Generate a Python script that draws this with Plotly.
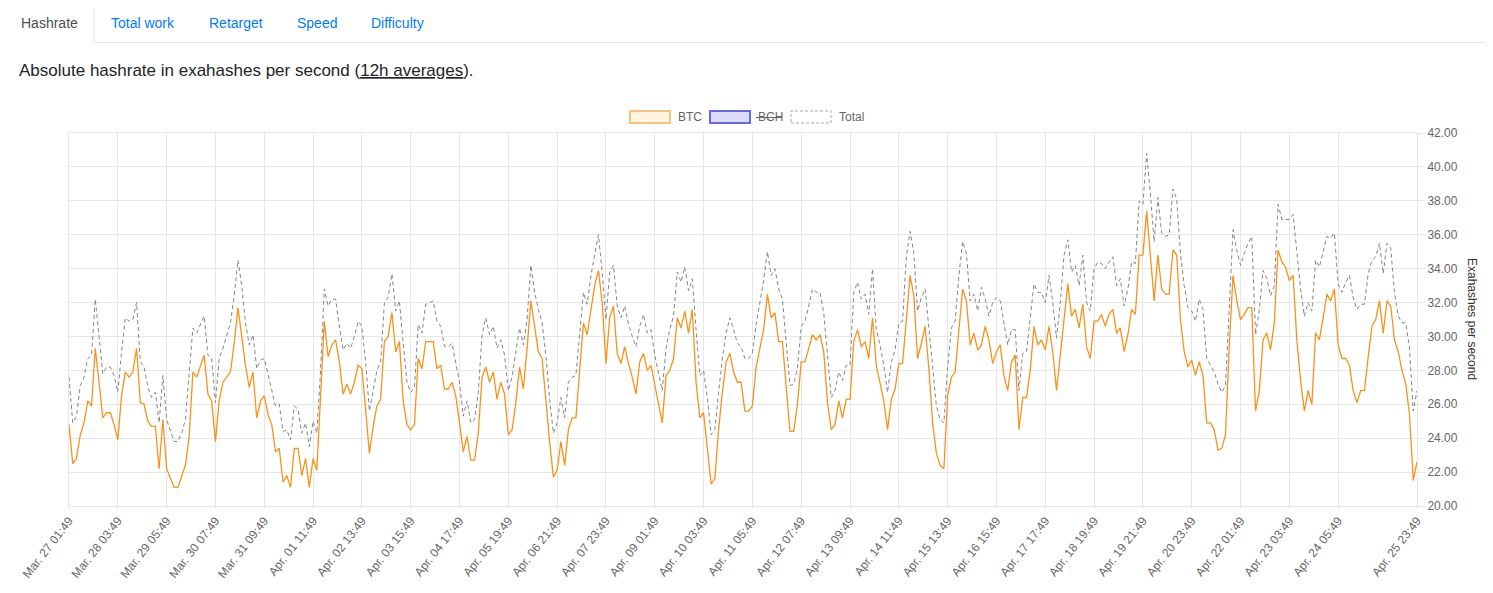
import plotly.graph_objects as go

# ---------------- data (EH/s, one point every 2 hours) ----------------
BTC = [
    24.8, 22.5, 22.8, 24.2, 24.9, 26.2, 25.9, 29.3, 27.3, 25.2, 25.5, 25.5, 24.8, 23.9, 26.5, 27.9, 27.6, 27.9, 29.3, 26.1,
    26.0, 25.0, 24.7, 24.7, 22.2, 25.1, 22.2, 21.6, 21.1, 21.1, 21.7, 22.4, 24.1,
    27.9, 27.6, 28.3, 28.9, 26.6, 26.2, 23.8, 26.2, 27.3, 27.6, 27.9, 29.6, 31.7, 30.0, 28.3, 27.0, 27.9, 25.2, 26.2, 26.5,
    25.4, 24.8, 23.2, 23.4, 21.4, 21.8, 21.1, 23.4, 23.4, 21.8, 22.8, 21.1, 22.8,
    22.1, 26.5, 30.9, 28.8, 29.5, 29.8, 28.5, 26.6, 27.2, 26.6, 27.3, 28.3, 28.1, 25.7, 23.1, 24.7, 25.9, 26.3, 29.7, 30.0,
    31.4, 29.1, 29.7, 26.2, 24.8, 24.5, 24.8, 28.7, 28.1, 29.7, 29.7, 29.7, 28.1, 28.3,
    26.9, 26.9, 27.3, 26.5, 24.9, 23.2, 24.1, 22.7, 22.7, 24.3, 27.6, 28.2, 27.3, 27.9, 26.3, 27.3, 26.6, 24.2, 24.5, 26.1,
    28.2, 26.9, 29.3, 32.1, 30.6, 29.1, 28.7, 26.1, 23.8, 21.7, 22.1, 23.8, 22.4,
    24.5, 25.2, 25.2, 28.3, 30.8, 30.1, 31.6, 33.0, 33.9, 32.0, 28.4, 31.1, 31.8, 29.0, 28.4, 29.4, 28.4, 27.6, 26.6, 28.5,
    29.0, 28.0, 28.3, 27.2, 25.9, 24.9, 27.7, 28.0, 28.7, 31.1, 30.5, 31.5, 30.2,
    31.6, 27.3, 25.2, 25.5, 23.3, 21.3, 21.6, 24.5, 26.7, 28.5, 29.0, 27.9, 27.3, 27.3, 25.6, 25.6, 25.9, 28.2, 29.3, 30.4,
    32.5, 31.1, 31.4, 29.7, 29.7, 26.8, 24.4, 24.4, 26.0, 28.5, 28.5, 29.3, 30.1,
    29.8, 30.1, 29.1, 26.1, 24.5, 24.8, 26.2, 25.2, 26.3, 26.3, 29.7, 30.4, 29.4, 29.7, 28.7, 31.1, 28.3, 27.3, 26.2, 24.5,
    26.3, 26.9, 28.4, 28.4, 31.2, 33.6, 32.4, 28.7, 29.6, 30.6, 28.1, 24.9, 23.1, 22.4,
    22.2, 26.5, 27.6, 27.9, 30.4, 32.8, 32.1, 29.5, 30.2, 29.2, 29.5, 30.6, 29.8, 28.4, 29.1, 29.5, 27.7, 26.8, 28.5, 28.9,
    24.5, 26.4, 26.4, 28.0, 30.6, 29.5, 29.8, 29.2, 30.6, 29.1, 26.8, 28.9, 31.2,
    33.1, 31.2, 31.6, 30.5, 31.9, 29.4, 28.7, 30.9, 30.9, 31.3, 30.6, 31.3, 31.6, 30.2, 30.5, 29.1, 30.1, 31.6, 31.3, 34.8,
    34.8, 37.4, 34.6, 32.1, 34.8, 32.8, 32.5, 32.5, 35.1, 34.8, 31.0, 29.1, 28.2, 28.6,
    27.7, 28.5, 27.7, 24.9, 24.9, 24.5, 23.3, 23.4, 24.2, 29.5, 33.6, 32.1, 31.0, 31.3, 31.7, 31.7, 25.6, 26.8, 29.8, 30.2,
    29.2, 30.8, 35.1, 34.4, 34.1, 33.3, 33.6, 29.8, 27.4, 25.6, 26.8, 26.0, 30.2,
    29.8, 31.1, 32.5, 32.1, 32.8, 29.5, 28.7, 28.7, 28.3, 26.8, 26.1, 26.8, 26.8, 28.8, 30.6, 31.0, 32.1, 30.2, 32.1, 31.8,
    29.8, 29.1, 28.0, 27.2, 25.4, 21.5, 22.6,
]

TOTAL = [
    27.6, 24.9, 25.3, 27.1, 27.6, 28.7, 28.9, 32.2, 30.0, 27.8, 28.2, 28.2, 27.7, 26.7, 29.1, 31.1, 30.9, 31.0, 32.0, 28.5,
    28.2, 27.0, 26.4, 26.7, 24.9, 27.7, 25.1, 24.4, 23.8, 23.8, 24.3, 25.1, 27.8,
    30.5, 30.2, 30.7, 31.2, 28.9, 28.7, 26.1, 28.7, 29.3, 30.0, 30.8, 32.4, 34.5, 33.0, 30.8, 29.5, 30.1, 28.1, 28.6, 28.7,
    27.7, 26.9, 25.9, 26.0, 24.4, 24.5, 23.9, 25.9, 25.7, 24.3, 24.9, 23.5, 25.0,
    24.3, 28.0, 32.8, 31.8, 32.2, 32.2, 30.6, 29.2, 29.6, 29.3, 30.0, 30.9, 30.6, 28.5, 25.6, 26.9, 28.0, 28.5, 32.0, 32.3,
    33.7, 31.5, 32.1, 29.6, 27.3, 26.7, 27.0, 30.7, 30.2, 31.9, 32.0, 32.1, 30.9, 30.6,
    29.4, 29.4, 29.6, 28.5, 27.3, 25.3, 26.2, 24.9, 25.1, 26.7, 30.1, 31.1, 30.1, 30.6, 29.3, 29.8, 28.9, 26.8, 27.6, 29.1,
    30.5, 29.5, 31.0, 34.2, 32.6, 31.6, 30.8, 28.9, 26.3, 24.3, 24.9, 26.4, 25.2,
    27.3, 27.6, 27.7, 30.0, 32.6, 31.9, 33.6, 34.8, 36.0, 33.8, 31.0, 33.8, 34.2, 31.8, 31.1, 31.8, 30.7, 30.0, 29.4, 30.6,
    31.3, 30.2, 30.4, 28.9, 27.8, 26.8, 29.3, 30.4, 31.2, 33.8, 33.2, 34.1, 32.7,
    33.4, 30.4, 27.7, 28.0, 26.4, 24.2, 24.5, 26.7, 28.7, 30.2, 31.1, 30.4, 29.6, 29.4, 28.7, 28.7, 29.0, 30.7, 32.0, 33.3,
    35.0, 33.6, 34.0, 32.8, 32.2, 29.6, 27.1, 27.2, 28.1, 30.6, 30.9, 31.8, 32.8,
    32.6, 32.6, 31.4, 28.7, 26.4, 26.8, 27.9, 27.4, 28.3, 28.3, 32.6, 33.2, 32.2, 32.5, 31.3, 34.0, 30.4, 29.5, 28.3, 26.7,
    28.5, 29.2, 30.8, 30.9, 34.7, 36.2, 34.9, 31.5, 32.3, 32.8, 30.4, 28.1, 25.9, 25.1,
    24.9, 28.2, 30.5, 30.9, 33.6, 35.6, 34.9, 32.1, 32.5, 31.5, 32.9, 32.2, 31.2, 32.0, 32.3, 32.1, 30.8, 29.5, 30.4, 30.4,
    26.8, 29.0, 29.1, 31.0, 33.1, 32.6, 32.6, 32.0, 33.6, 32.0, 29.9, 32.0, 34.8,
    35.7, 33.8, 34.2, 33.0, 34.8, 32.0, 31.5, 34.0, 34.4, 34.3, 34.0, 34.4, 34.7, 33.0, 33.4, 31.8, 32.8, 34.4, 34.3, 38.0,
    37.8, 40.8, 38.4, 35.6, 38.2, 36.1, 35.9, 36.0, 38.7, 38.1, 34.9, 33.0, 31.7, 31.5,
    30.9, 32.2, 31.6, 28.7, 28.3, 27.9, 27.2, 26.7, 27.1, 31.8, 36.3, 35.1, 34.2, 34.9, 35.5, 35.9, 30.1, 31.6, 33.9, 33.4,
    32.4, 33.0, 37.8, 36.9, 36.9, 36.9, 37.2, 35.1, 32.8, 31.2, 32.0, 31.5, 34.5,
    34.1, 35.1, 35.9, 35.8, 36.1, 33.1, 32.6, 33.2, 33.6, 32.3, 31.6, 31.9, 31.9, 33.7, 34.5, 34.7, 35.5, 33.7, 35.5, 35.2,
    32.6, 31.2, 30.8, 30.8, 29.3, 25.6, 26.8,
]

TICK_POS = [0, 13, 26, 39, 52, 65, 78, 91, 104, 117, 130, 143, 156, 169, 182, 195, 208, 221,
            234, 247, 260, 273, 286, 299, 312, 325, 338, 359]
TICK_LABELS = [
    "Mar. 27 01:49", "Mar. 28 03:49", "Mar. 29 05:49", "Mar. 30 07:49", "Mar. 31 09:49",
    "Apr. 01 11:49", "Apr. 02 13:49", "Apr. 03 15:49", "Apr. 04 17:49", "Apr. 05 19:49",
    "Apr. 06 21:49", "Apr. 07 23:49", "Apr. 09 01:49", "Apr. 10 03:49", "Apr. 11 05:49",
    "Apr. 12 07:49", "Apr. 13 09:49", "Apr. 14 11:49", "Apr. 15 13:49", "Apr. 16 15:49",
    "Apr. 17 17:49", "Apr. 18 19:49", "Apr. 19 21:49", "Apr. 20 23:49", "Apr. 22 01:49",
    "Apr. 23 03:49", "Apr. 24 05:49", "Apr. 25 23:49",
]
Y_TICKS = [20, 22, 24, 26, 28, 30, 32, 34, 36, 38, 40, 42]

TABS = ["Hashrate", "Total work", "Retarget", "Speed", "Difficulty"]
LEGEND = ["BTC", "BCH", "Total"]

# ---------------- geometry helpers (page px -> paper) ----------------
W, H = 1477, 577
OFF = 8


def fx(x):
    return (x - OFF) / W


def fy(y):
    return 1 - (y - OFF) / H


FONT = "Liberation Sans, Arial, Helvetica, sans-serif"
GRID = "#e6e6e6"

x = list(range(len(BTC)))
fig = go.Figure()
fig.add_trace(go.Scatter(x=x, y=TOTAL, mode="lines", name=LEGEND[2],
                         line=dict(color="#858585", width=1, dash="4px,3px")))
fig.add_trace(go.Scatter(x=x, y=BTC, mode="lines", name=LEGEND[0],
                         line=dict(color="#f7931a", width=1.3)))

fig.update_layout(
    width=W, height=H, margin=dict(l=0, r=0, t=0, b=0, autoexpand=False),
    paper_bgcolor="white", plot_bgcolor="white", showlegend=False,
    font=dict(family=FONT, size=12, color="#666"),
    xaxis=dict(domain=[fx(69), fx(1417)], range=[0, len(BTC) - 1], automargin=False,
               tickmode="array", tickvals=TICK_POS, ticktext=TICK_LABELS, tickangle=-52,
               showgrid=True, gridcolor=GRID, gridwidth=1, zeroline=False,
               ticks="outside", ticklen=2, tickcolor=GRID, showline=True, linecolor=GRID,
               mirror=True, tickfont=dict(family=FONT, size=12, color="#666")),
    yaxis=dict(domain=[fy(506), fy(133)], range=[20, 42], side="right", automargin=False,
               tickmode="array", tickvals=Y_TICKS, ticktext=[f"{v:.2f}" for v in Y_TICKS],
               showgrid=True, gridcolor=GRID, gridwidth=1, zeroline=False,
               ticks="outside", ticklen=7, tickcolor=GRID, showline=True, linecolor=GRID,
               mirror=True, tickfont=dict(family=FONT, size=12, color="#666")),
)

shapes = []
ann = []

# --- tabs ---
r = 4
x0, x1, yt, yb = 4, 94, 4, 42.5
path = (f"M {fx(x0)},{fy(yb)} L {fx(x0)},{fy(yt + r)} Q {fx(x0)},{fy(yt)} {fx(x0 + r)},{fy(yt)} "
        f"L {fx(x1 - r)},{fy(yt)} Q {fx(x1)},{fy(yt)} {fx(x1)},{fy(yt + r)} L {fx(x1)},{fy(yb)}")
shapes.append(dict(type="path", xref="paper", yref="paper", path=path,
                   line=dict(color="#dee2e6", width=1), fillcolor="white"))
shapes.append(dict(type="line", xref="paper", yref="paper", x0=fx(0), x1=fx(x0), y0=fy(yb), y1=fy(yb),
                   line=dict(color="#dee2e6", width=1)))
shapes.append(dict(type="line", xref="paper", yref="paper", x0=fx(x1), x1=fx(1493), y0=fy(yb), y1=fy(yb),
                   line=dict(color="#dee2e6", width=1)))
tab_centers = [49, 143, 236, 317, 398]
for i, (t, cx) in enumerate(zip(TABS, tab_centers)):
    ann.append(dict(text=t, xref="paper", yref="paper", x=fx(cx), y=fy(23), xanchor="center",
                    yanchor="middle", showarrow=False,
                    font=dict(family=FONT, size=14, color="#495057" if i == 0 else "#007bff")))

# --- description line ---
ann.append(dict(text="Absolute hashrate in exahashes per second (<u>12h averages</u>).",
                xref="paper", yref="paper", x=fx(17), y=fy(71), xanchor="left", yanchor="middle",
                showarrow=False, font=dict(family=FONT, size=17, color="#212529")))

# --- legend ---
leg = [
    (630, "#fff6e2", "#fbc27e", "solid", 2, 676),
    (710, "#dcdcfb", "#6666f2", "solid", 2, 756),
    (791, "white", "#a8a8a8", "3px,2px", 1, 837),
]
for (bx, fill, border, dash, lw, tx), name in zip(leg, LEGEND):
    shapes.append(dict(type="rect", xref="paper", yref="paper", x0=fx(bx), x1=fx(bx + 40),
                       y0=fy(123), y1=fy(111), fillcolor=fill,
                       line=dict(color=border, width=lw, dash=dash)))
    ann.append(dict(text=name, xref="paper", yref="paper", x=fx(tx), y=fy(117), xanchor="left",
                    yanchor="middle", showarrow=False, font=dict(family=FONT, size=12, color="#666")))
# BCH dataset hidden -> struck through label
shapes.append(dict(type="line", xref="paper", yref="paper", x0=fx(756), x1=fx(782), y0=fy(117.5),
                   y1=fy(117.5), line=dict(color="#666", width=1)))

# --- y axis title ---
ann.append(dict(text="Exahashes per second", xref="paper", yref="paper", x=fx(1472), y=fy(319),
                xanchor="center", yanchor="middle", textangle=90, showarrow=False,
                font=dict(family=FONT, size=12, color="#333")))

fig.update_layout(shapes=shapes, annotations=ann)
fig.write_html("out.html")
